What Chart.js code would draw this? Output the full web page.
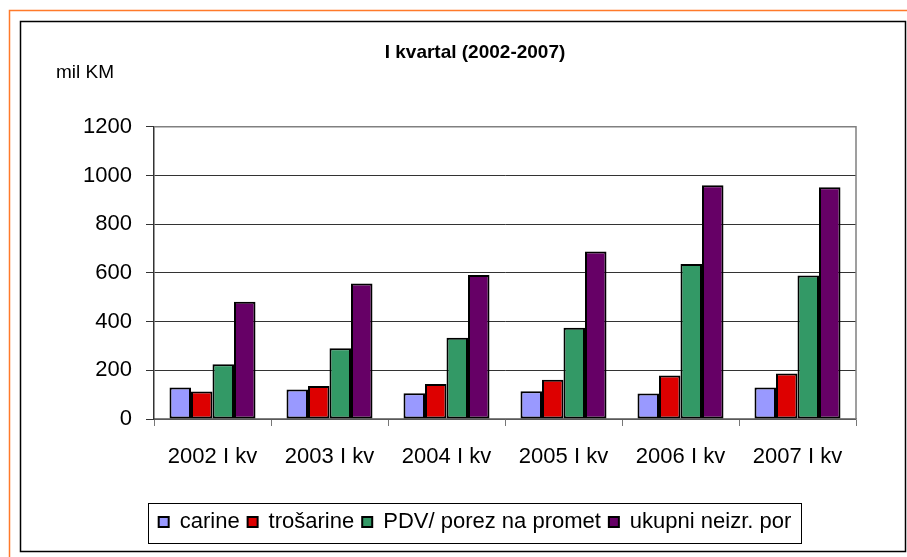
<!DOCTYPE html>
<html>
<head>
<meta charset="utf-8">
<script src="https://cdn.jsdelivr.net/npm/chart.js@4/dist/chart.umd.min.js"></script>
<style>
	html, body { margin: 0; padding: 0; background: #fff; }
	canvas { display: block; }
</style>
</head>
<body>
<canvas id="kvartalChart" width="907" height="557"></canvas>
<script>
// values (mil KM)
const categories = ['2002 I kv', '2003 I kv', '2004 I kv', '2005 I kv', '2006 I kv', '2007 I kv'];
const carine = [129, 121, 106, 114, 105, 129];
const trosarine = [113, 136, 144, 161, 179, 187];
const pdvPorez = [225, 291, 334, 375, 637, 589];
const ukupniNeizrPor = [482, 556, 591, 688, 960, 952];
const yTicks = [0, 200, 400, 600, 800, 1000, 1200];

const FONT = "'Liberation Sans', Arial, sans-serif";

// shift title + legend a bit right, the frame is centered wider than the plot
const centerShift = {
	id: 'centerShift',
	afterLayout(chart) {
		const dx = 37;
		[chart.titleBlock, chart.legend].forEach((box) => {
			if (!box) return;
			box.left += dx;
			box.right += dx;
		});
		if (chart.legend.adjustHitBoxes) chart.legend.adjustHitBoxes();
	},
};

const decorations = {
	id: 'decorations',
	beforeDraw(chart) {
		const { ctx, width, height } = chart;
		ctx.save();
		ctx.fillStyle = '#fff';
		ctx.fillRect(0, 0, width, height);
		ctx.restore();
	},
	afterDraw(chart) {
		const { ctx, chartArea } = chart;
		ctx.save();

		// outer orange frame + inner black frame
		ctx.strokeStyle = '#ff7a2a';
		ctx.lineWidth = 1.5;
		ctx.strokeRect(9.5, 10.5, 1000, 1000);
		ctx.strokeStyle = '#000';
		ctx.lineWidth = 1.5;
		ctx.strokeRect(20.5, 21.5, 885, 530);

		// plot area border (top + right)
		ctx.strokeStyle = '#808080';
		ctx.lineWidth = 1.5;
		ctx.beginPath();
		ctx.moveTo(chartArea.left, chartArea.top);
		ctx.lineTo(chartArea.right, chartArea.top);
		ctx.lineTo(chartArea.right, chartArea.bottom);
		ctx.stroke();

		// unit label
		ctx.fillStyle = '#000';
		ctx.font = `19px ${FONT}`;
		ctx.textBaseline = 'middle';
		ctx.textAlign = 'left';
		ctx.fillText('mil KM', 56, 73);

		// legend box
		const boxes = chart.legend.legendHitBoxes;
		if (boxes?.length) {
			const minX = Math.min(...boxes.map((b) => b.left));
			const maxX = Math.max(...boxes.map((b) => b.left + b.width));
			ctx.strokeStyle = '#000';
			ctx.lineWidth = 1;
			ctx.strokeRect(Math.round(minX - 11) + 0.5, Math.round(chart.legend.top) + 0.5,
				Math.round(maxX - minX + 20), Math.round(chart.legend.height));
		}
		ctx.restore();
	},
};

const ctx = document.getElementById('kvartalChart').getContext('2d');
new Chart(ctx, {
	type: 'bar',
	data: {
		labels: categories,
		datasets: [
			{ label: 'carine', data: carine, backgroundColor: '#9999ff' },
			{ label: 'trošarine', data: trosarine, backgroundColor: '#dd0000' },
			{ label: 'PDV/ porez na promet', data: pdvPorez, backgroundColor: '#339966' },
			{ label: 'ukupni neizr. por', data: ukupniNeizrPor, backgroundColor: '#660066' },
		].map((ds) => ({
			...ds,
			borderColor: '#000',
			borderWidth: 2,
			borderSkipped: false,
			categoryPercentage: 0.735,
			barPercentage: 1,
		})),
	},
	options: {
		responsive: false,
		animation: false,
		layout: {
			padding: { top: 21, left: 20, right: 51, bottom: 14 },
		},
		plugins: {
			title: {
				display: true,
				text: 'I kvartal (2002-2007)',
				color: '#000',
				font: { family: FONT, size: 19, weight: 'bold' },
				padding: { top: 20, bottom: 63 },
			},
			legend: {
				display: true,
				position: 'bottom',
				labels: {
					color: '#000',
					font: { family: FONT, size: 22 },
					boxWidth: 10,
					boxHeight: 10,
					padding: 8,
				},
			},
			tooltip: { enabled: false },
		},
		scales: {
			x: {
				grid: {
					offset: true,
					drawOnChartArea: false,
					drawTicks: true,
					tickLength: 7,
					color: '#777',
				},
				border: { display: true, color: '#808080', width: 1.5 },
				ticks: {
					color: '#000',
					font: { family: FONT, size: 22 },
					padding: 18,
					maxRotation: 0,
				},
				afterFit: (scale) => { scale.height = 84; },
			},
			y: {
				min: 0,
				max: 1200,
				afterBuildTicks: (scale) => {
					scale.ticks = yTicks.map((v) => ({ value: v }));
				},
				grid: {
					color: '#333',
					lineWidth: 1,
					drawTicks: true,
					tickLength: 8,
				},
				border: { display: true, color: '#333', width: 1.5 },
				ticks: {
					color: '#000',
					font: { family: FONT, size: 22 },
					padding: 14,
					callback: (value) => String(value),
				},
				afterFit: (scale) => { scale.width = 134; },
			},
		},
	},
	plugins: [centerShift, decorations],
});
</script>
</body>
</html>
